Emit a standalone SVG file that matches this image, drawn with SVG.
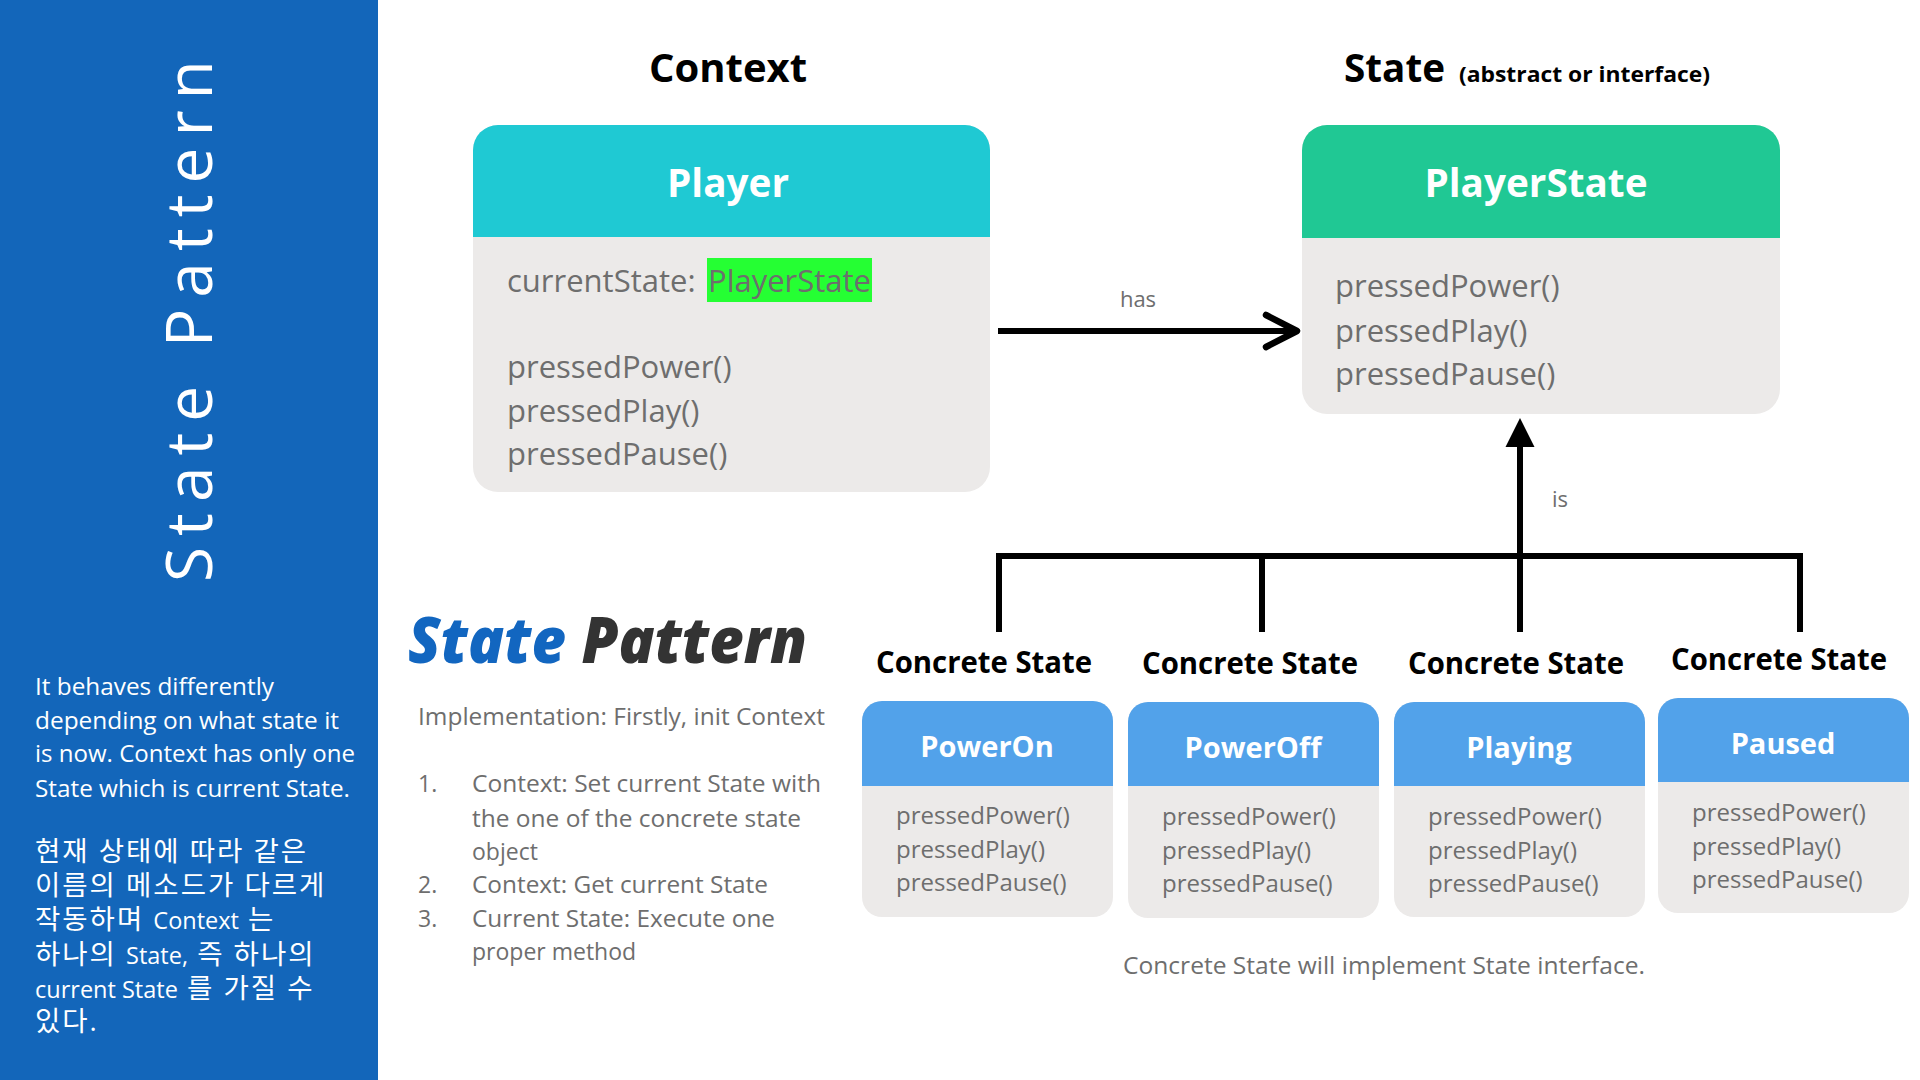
<svg xmlns="http://www.w3.org/2000/svg" width="1920" height="1080" viewBox="0 0 1920 1080">
  <style>
    text { font-family: "Open Sans", "Noto Sans CJK KR", sans-serif; }
    .side { fill: #ffffff; font-size: 23px; }
    .sideKr { fill: #ffffff; font-size: 27.5px; letter-spacing: 2px; }
    .sideKr .en { font-size: 23.5px; letter-spacing: 0; }
    .heading { fill: #000000; font-size: 40px; font-weight: 700; }
    .sub { fill: #000000; font-size: 22px; font-weight: 700; }
    .cls { fill: #ffffff; font-size: 40px; font-weight: 700; text-anchor: middle; }
    .cls-sm { fill: #ffffff; font-size: 29px; font-weight: 700; text-anchor: middle; }
    .member { fill: #6e6e6e; font-size: 31px; }
    .member-sm { fill: #6e6e6e; font-size: 24px; }
    .kind { fill: #000000; font-size: 30px; font-weight: 700; text-anchor: middle; }
    .note { fill: #6e6e6e; font-size: 23px; }
    .label { fill: #6e6e6e; font-size: 22px; text-anchor: middle; }
    .body { fill: #eceae9; }
    .hdr-ctx { fill: #1fc9d3; }
    .hdr-state { fill: #20c894; }
    .hdr-conc { fill: #52a2ea; }
    .wire { fill: none; stroke: #000000; stroke-width: 6; }
  </style>
  <defs>
    <marker id="open-arrow" markerUnits="userSpaceOnUse" markerWidth="40" markerHeight="40" orient="auto" overflow="visible">
      <path d="M-31,-16 L0,0 L-31,16" fill="none" stroke="#000" stroke-width="6.5" stroke-linecap="round" stroke-linejoin="round"/>
    </marker>
    <marker id="solid-arrow" markerUnits="userSpaceOnUse" markerWidth="40" markerHeight="40" orient="auto" overflow="visible">
      <path d="M29,0 L0,-14.5 L0,14.5 Z" fill="#000"/>
    </marker>
  </defs>

  <rect x="0" y="0" width="1920" height="1080" fill="#ffffff"/>

  <!-- side panel -->
  <g id="side-panel">
    <rect x="0" y="0" width="378" height="1080" fill="#1366ba"/>
    <text transform="translate(212,582) rotate(-90)" fill="#ffffff" font-size="64" letter-spacing="11">State Pattern</text>
    <text class="side" x="35" y="695" textLength="239" lengthAdjust="spacingAndGlyphs">It behaves differently</text>
    <text class="side" x="35" y="729" textLength="304" lengthAdjust="spacingAndGlyphs">depending on what state it</text>
    <text class="side" x="35" y="762" textLength="320" lengthAdjust="spacingAndGlyphs">is now. Context has only one</text>
    <text class="side" x="35" y="797" textLength="315" lengthAdjust="spacingAndGlyphs">State which is current State.</text>
    <text class="sideKr" x="35" y="861">현재 상태에 따라 같은</text>
    <text class="sideKr" x="35" y="895">이름의 메소드가 다르게</text>
    <text class="sideKr" x="35" y="929">작동하며 <tspan class="en">Context</tspan> 는</text>
    <text class="sideKr" x="35" y="964">하나의 <tspan class="en">State,</tspan> 즉 하나의</text>
    <text class="sideKr" x="35" y="998"><tspan class="en">current State</tspan> 를 가질 수</text>
    <text class="sideKr" x="35" y="1031">있다.</text>
  </g>

  <!-- headings -->
  <text class="heading" x="728" y="82" text-anchor="middle">Context</text>
  <text class="heading" x="1344" y="82" textLength="101" lengthAdjust="spacingAndGlyphs">State</text>
  <text class="sub" x="1459" y="82" textLength="251" lengthAdjust="spacingAndGlyphs">(abstract or interface)</text>

  <!-- Context class -->
  <g id="player">
    <rect class="body" x="473" y="125" width="517" height="367" rx="25"/>
    <path class="hdr-ctx" d="M473,237 V150 A25,25 0 0 1 498,125 H965 A25,25 0 0 1 990,150 V237 Z"/>
    <text class="cls" x="728" y="197" textLength="122" lengthAdjust="spacingAndGlyphs">Player</text>
    <text class="member" x="507" y="292">currentState: </text>
    <rect x="707" y="258" width="165" height="44" fill="#25ff33"/>
    <text class="member" x="708" y="292" textLength="163" lengthAdjust="spacingAndGlyphs">PlayerState</text>
    <text class="member" x="507" y="378">pressedPower()</text>
    <text class="member" x="507" y="422">pressedPlay()</text>
    <text class="member" x="507" y="465">pressedPause()</text>
  </g>

  <!-- State interface -->
  <g id="player-state">
    <rect class="body" x="1302" y="125" width="478" height="289" rx="25"/>
    <path class="hdr-state" d="M1302,238 V150 A25,25 0 0 1 1327,125 H1755 A25,25 0 0 1 1780,150 V238 Z"/>
    <text class="cls" x="1536" y="197" textLength="223" lengthAdjust="spacingAndGlyphs">PlayerState</text>
    <text class="member" x="1335" y="297">pressedPower()</text>
    <text class="member" x="1335" y="342">pressedPlay()</text>
    <text class="member" x="1335" y="385">pressedPause()</text>
  </g>

  <!-- concrete states -->
  <g id="power-on">
    <text class="kind" x="984" y="673" textLength="216" lengthAdjust="spacingAndGlyphs">Concrete State</text>
    <rect class="body" x="862" y="701" width="251" height="216" rx="20"/>
    <path class="hdr-conc" d="M862,786 V721 A20,20 0 0 1 882,701 H1093 A20,20 0 0 1 1113,721 V786 Z"/>
    <text class="cls-sm" x="987" y="757">PowerOn</text>
    <text class="member-sm" x="896" y="824">pressedPower()</text>
    <text class="member-sm" x="896" y="858">pressedPlay()</text>
    <text class="member-sm" x="896" y="891">pressedPause()</text>
  </g>
  <g id="power-off">
    <text class="kind" x="1250" y="674" textLength="216" lengthAdjust="spacingAndGlyphs">Concrete State</text>
    <rect class="body" x="1128" y="702" width="251" height="216" rx="20"/>
    <path class="hdr-conc" d="M1128,786 V722 A20,20 0 0 1 1148,702 H1359 A20,20 0 0 1 1379,722 V786 Z"/>
    <text class="cls-sm" x="1253" y="758">PowerOff</text>
    <text class="member-sm" x="1162" y="825">pressedPower()</text>
    <text class="member-sm" x="1162" y="859">pressedPlay()</text>
    <text class="member-sm" x="1162" y="892">pressedPause()</text>
  </g>
  <g id="playing">
    <text class="kind" x="1516" y="674" textLength="216" lengthAdjust="spacingAndGlyphs">Concrete State</text>
    <rect class="body" x="1394" y="702" width="251" height="215" rx="20"/>
    <path class="hdr-conc" d="M1394,786 V722 A20,20 0 0 1 1414,702 H1625 A20,20 0 0 1 1645,722 V786 Z"/>
    <text class="cls-sm" x="1519" y="758">Playing</text>
    <text class="member-sm" x="1428" y="825">pressedPower()</text>
    <text class="member-sm" x="1428" y="859">pressedPlay()</text>
    <text class="member-sm" x="1428" y="892">pressedPause()</text>
  </g>
  <g id="paused">
    <text class="kind" x="1779" y="670" textLength="216" lengthAdjust="spacingAndGlyphs">Concrete State</text>
    <rect class="body" x="1658" y="698" width="251" height="215" rx="20"/>
    <path class="hdr-conc" d="M1658,782 V718 A20,20 0 0 1 1678,698 H1889 A20,20 0 0 1 1909,718 V782 Z"/>
    <text class="cls-sm" x="1783" y="754">Paused</text>
    <text class="member-sm" x="1692" y="821">pressedPower()</text>
    <text class="member-sm" x="1692" y="855">pressedPlay()</text>
    <text class="member-sm" x="1692" y="888">pressedPause()</text>
  </g>

  <!-- connectors -->
  <g id="connectors">
    <line class="wire" x1="998" y1="331" x2="1297" y2="331" marker-end="url(#open-arrow)"/>
    <text class="label" x="1138" y="307">has</text>
    <path class="wire" d="M999,632 V556 H1800 V632 M1262,556 V632 M1520,632 V556"/>
    <line class="wire" x1="1520" y1="556" x2="1520" y2="447" marker-end="url(#solid-arrow)"/>
    <text class="label" x="1560" y="507">is</text>
  </g>

  <text class="note" x="1384" y="974" text-anchor="middle" textLength="522" lengthAdjust="spacingAndGlyphs">Concrete State will implement State interface.</text>

  <!-- summary block -->
  <g id="summary">
    <text x="408" y="663" font-size="64" font-weight="800" font-style="italic" textLength="399" lengthAdjust="spacingAndGlyphs"><tspan fill="#1266c0">State </tspan><tspan fill="#333333">Pattern</tspan></text>
    <text class="note" x="418" y="725" textLength="407" lengthAdjust="spacingAndGlyphs">Implementation: Firstly, init Context</text>
    <text class="note" x="418" y="792">1.</text>
    <text class="note" x="472" y="792" textLength="349" lengthAdjust="spacingAndGlyphs">Context: Set current State with</text>
    <text class="note" x="472" y="827" textLength="329" lengthAdjust="spacingAndGlyphs">the one of the concrete state</text>
    <text class="note" x="472" y="860">object</text>
    <text class="note" x="418" y="893">2.</text>
    <text class="note" x="472" y="893" textLength="296" lengthAdjust="spacingAndGlyphs">Context: Get current State</text>
    <text class="note" x="418" y="927">3.</text>
    <text class="note" x="472" y="927" textLength="303" lengthAdjust="spacingAndGlyphs">Current State: Execute one</text>
    <text class="note" x="472" y="960">proper method</text>
  </g>
</svg>
